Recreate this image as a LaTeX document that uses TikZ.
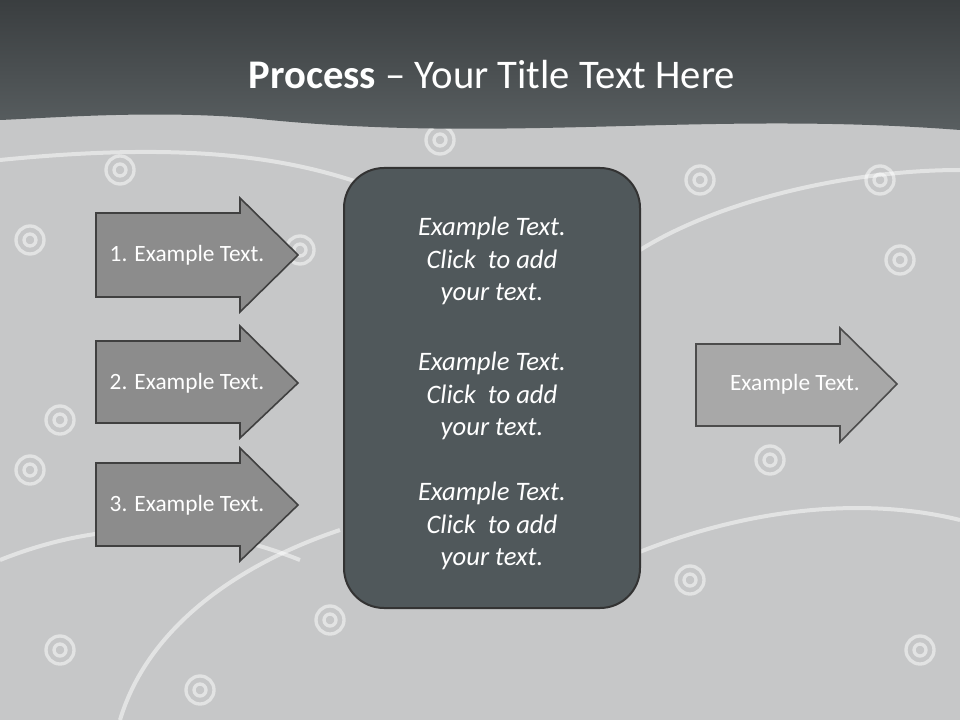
\documentclass[tikz,border=0pt]{standalone}
\usepackage{fontspec}
\setmainfont{Carlito}
\definecolor{boxc}{RGB}{80,88,91}
\definecolor{hd1}{RGB}{58,62,64}
\definecolor{hd2}{RGB}{92,98,100}
\definecolor{bg}{RGB}{198,199,200}
\definecolor{arc}{RGB}{140,140,140}
\definecolor{rarc}{RGB}{168,168,168}
\begin{document}
\begin{tikzpicture}[x=0.75pt,y=-0.75pt,
  arr/.style={draw=black!75,line width=1.2pt,fill=arc},
  rarr/.style={draw=black!70,line width=1.2pt,fill=rarc},
  lbl/.style={text=white,font=\fontsize{17.5}{20}\selectfont},
  box/.style={draw=black!80,line width=1.5pt,fill=boxc,rounded corners=30pt},
  swirl/.style={draw=white,opacity=0.5,line width=3pt}]
\useasboundingbox (0,0) rectangle (960,720);
\fill[bg] (0,0) rectangle (960,720);
% decorative arcs
\draw[swirl] (0,160) .. controls (200,140) and (300,160) .. (380,190);
\draw[swirl] (620,560) .. controls (760,500) and (880,500) .. (960,520);
\draw[swirl] (120,720) .. controls (150,620) and (250,560) .. (340,530);
\draw[swirl] (640,250) .. controls (720,200) and (850,170) .. (960,170);
\draw[swirl] (0,560) .. controls (100,520) and (200,520) .. (300,560);
\foreach \x/\y in {30/240,60/420,300/250,330/620,690/580,900/260,920/650,770/460,200/690,60/650,880/180,700/180,120/170,440/140,30/470}
  \draw[draw=white,opacity=0.5,line width=2.5pt] (\x,\y) circle (14) (\x,\y) circle (6);
% header
\shade[top color=hd1,bottom color=hd2] (0,0) -- (960,0) -- (960,130) .. controls (700,110) and (500,145) .. (250,118) .. controls (150,110) and (50,118) .. (0,120) -- cycle;
\node[text=white,font=\fontsize{30.5}{34}\selectfont] (title) at (492,75) {\textbf{Process} -- Your Title Text Here};
% arrows
\draw[arr] (96,213) -- (240,213) -- (240,198) -- (298,255) -- (240,312) -- (240,297) -- (96,297) -- cycle;
\node[lbl] (a1) at (187,255) {1. Example Text.};
\draw[arr] (96,341) -- (240,341) -- (240,326) -- (298,383) -- (240,438) -- (240,423) -- (96,423) -- cycle;
\node[lbl] (a2) at (187,383) {2. Example Text.};
\draw[arr] (96,463) -- (240,463) -- (240,448) -- (298,505) -- (240,561) -- (240,546) -- (96,546) -- cycle;
\node[lbl] (a3) at (187,505) {3. Example Text.};
\draw[rarr] (696,344) -- (840,344) -- (840,328) -- (897,384) -- (840,442) -- (840,426) -- (696,426) -- cycle;
\node[lbl] (r) at (795,384) {Example Text.};
% center box
\draw[box] (344,168) rectangle (640,608);
\foreach \y/\n in {261/t1,396/t2,526/t3}
  \node[text=white,font=\fontsize{20}{24.5}\selectfont\itshape,align=center] (\n) at (492,\y) {Example Text.\\Click~ to add\\your text.};
\end{tikzpicture}
\end{document}
